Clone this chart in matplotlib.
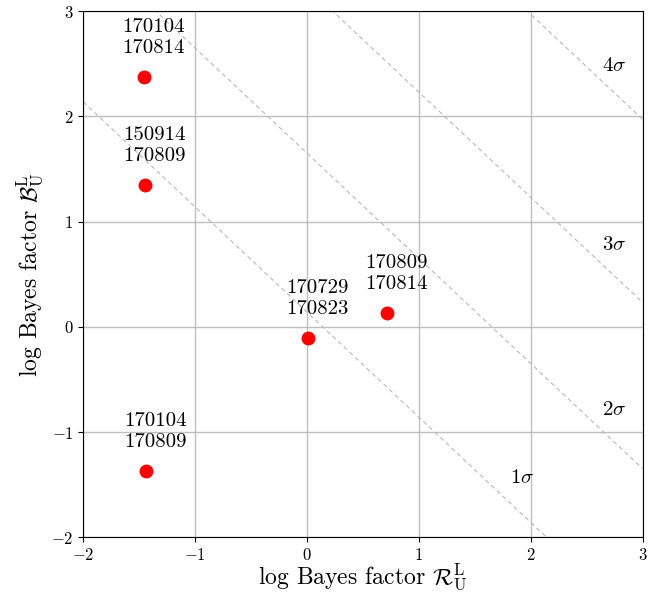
import matplotlib
matplotlib.use('Agg')
import numpy as np
import matplotlib.pyplot as plt

plt.rcParams['font.family'] = 'serif'
plt.rcParams['font.serif'] = ['cmr10']
plt.rcParams['mathtext.fontset'] = 'cm'
plt.rcParams['axes.formatter.use_mathtext'] = True

# event pairs: log Bayes factors
pair_labels = ['170104\n170814', '150914\n170809', '170729\n170823',
               '170809\n170814', '170104\n170809']
log_R = [-1.455, -1.446, 0.009, 0.714, -1.437]
log_B = [2.373, 1.346, -0.108, 0.129, -1.373]

# significance contours: log_R + log_B = const
sigma_names = [r'$1\sigma$', r'$2\sigma$', r'$3\sigma$', r'$4\sigma$']
sigma_levels = [0.14, 1.65, 3.23, 4.97]
sigma_label_x = [1.92, 2.74, 2.74, 2.74]
sigma_label_y = [-1.44, -0.79, 0.776, 2.48]

fig = plt.figure(figsize=(6.6, 5.93), dpi=100)
ax = fig.add_axes([0.126, 0.094, 0.848, 0.887])

ax.grid(True, color='#b0b0b0', lw=1.0, alpha=0.8)
ax.set_axisbelow(True)

xx = np.array([-2.0, 3.0])
for lev in sigma_levels:
    ax.plot(xx, lev - xx, ls=(0, (4, 3)), color='#b8b8b8', lw=0.8, zorder=1)
for name, sx, sy in zip(sigma_names, sigma_label_x, sigma_label_y):
    ax.text(sx, sy, name, fontsize=15, ha='center', va='center')

ax.plot(log_R, log_B, 'o', color='red', ms=9, zorder=3)
for lab, x, y in zip(pair_labels, log_R, log_B):
    ax.text(x + 0.085, y + 0.38, lab, fontsize=15, ha='center', va='center',
            linespacing=1.25)

ax.set_xlim(-2, 3)
ax.set_ylim(-2, 3)
ax.set_xticks([-2, -1, 0, 1, 2, 3])
ax.set_yticks([-2, -1, 0, 1, 2, 3])
ax.tick_params(labelsize=12)
ax.set_xlabel(r'log Bayes factor $\mathcal{R}_{\rm U}^{\rm L}$', fontsize=17, labelpad=-1)
ax.set_ylabel(r'log Bayes factor $\mathcal{B}_{\rm U}^{\rm L}$', fontsize=17, labelpad=4)

fig.savefig('out.png', dpi=100)
